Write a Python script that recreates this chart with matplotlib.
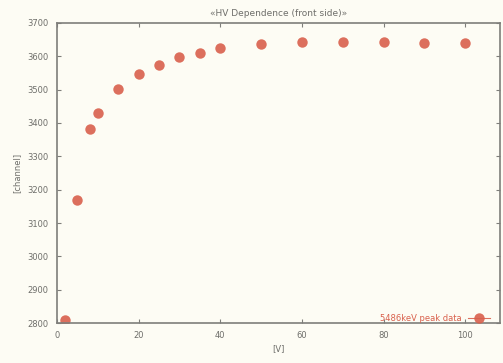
import matplotlib
matplotlib.use("Agg")
import matplotlib.pyplot as plt
from matplotlib.lines import Line2D

matplotlib.rcParams['font.family'] = 'sans-serif'

# Bias voltage [V] and fitted peak position [channel]
voltage = [2, 5, 8, 10, 15, 20, 25, 30, 35, 40, 50, 60, 70, 80, 90, 100]
peak_channel = [2810, 3168, 3383, 3430, 3503, 3547, 3575, 3598, 3611, 3624,
                3637, 3643, 3642, 3642, 3641, 3641]

x_ticks = [0, 20, 40, 60, 80, 100]
y_ticks = [2800, 2900, 3000, 3100, 3200, 3300, 3400, 3500, 3600, 3700]

series_label = "5486keV peak data"
title_text = "\u00abHV Dependence (front side)\u00bb"

bg = "#fdfcf4"
frame = "#7e7e7a"
text_c = "#6e6e6a"
point_c = "#d9604c"

fig = plt.figure(figsize=(5.03, 3.63), dpi=100, facecolor=bg)
ax = fig.add_axes([0.113, 0.110, 0.881, 0.827], facecolor=bg)

ax.plot(voltage, peak_channel, linestyle="none", marker="o", markersize=7.5,
        color=point_c, markeredgewidth=0, alpha=0.9)

ax.set_xlim(0, 108.5)
ax.set_ylim(2800, 3700)
ax.set_xticks(x_ticks)
ax.set_yticks(y_ticks)
ax.tick_params(direction="in", length=3, width=0.8, colors=frame,
               labelcolor=text_c, labelsize=6, top=True, right=True, pad=6)

for sp in ax.spines.values():
    sp.set_color(frame)
    sp.set_linewidth(1.2)

ax.set_xlabel("[V]", fontsize=6, color=text_c, labelpad=3)
ax.set_ylabel("[channel]", fontsize=6, color=text_c, labelpad=4)
ax.set_title(title_text, fontsize=6.5, color=text_c, pad=5)

# gnuplot-style key: label on the left, sample on the right
handle = Line2D([], [], color=point_c, linewidth=0.8, marker="o",
                markersize=7.5, markeredgewidth=0, alpha=0.9)
leg = ax.legend([handle], [series_label], loc="lower right", frameon=False,
                fontsize=6, markerfirst=False, handlelength=2.6,
                bbox_to_anchor=(0.985, -0.012), borderaxespad=0.0,
                handletextpad=0.8)
for t in leg.get_texts():
    t.set_color(point_c)

fig.savefig("out.png", dpi=100, facecolor=bg)
